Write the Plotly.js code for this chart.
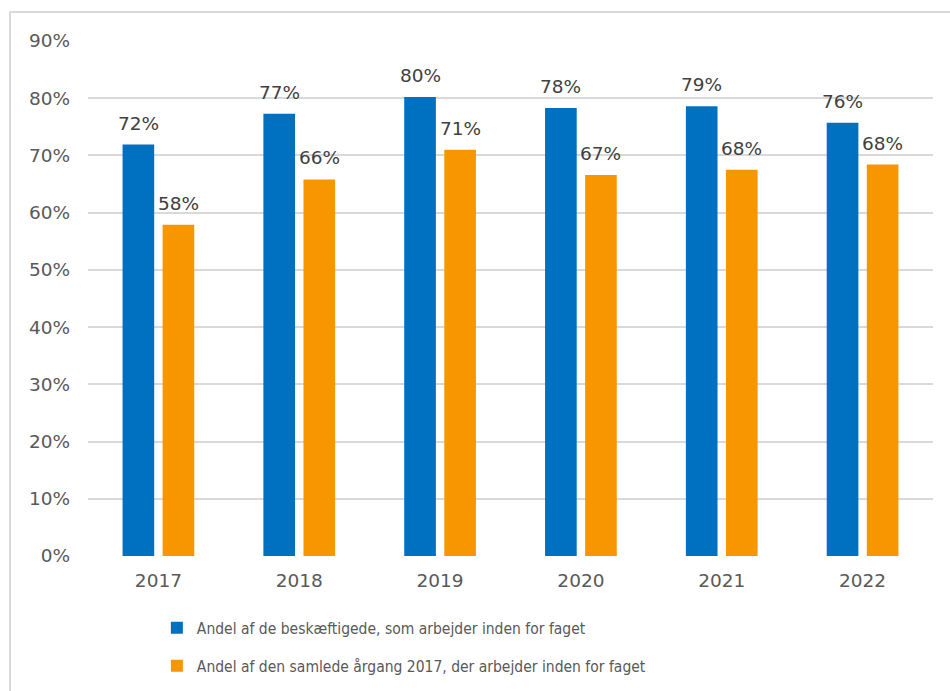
<!DOCTYPE html>
<html><head><meta charset="utf-8">
<script src="https://cdn.plot.ly/plotly-3.0.1.min.js"></script>
<style>
html,body{margin:0;padding:0;background:#fff;}
#wrap{position:relative;width:950px;height:691px;overflow:hidden;}
#frame{position:absolute;left:9px;top:11px;width:1000px;height:800px;border:2px solid #d9d9d9;box-sizing:border-box;}
#chart{position:absolute;left:0;top:0;width:950px;height:691px;}
</style></head>
<body><div id="wrap"><div id="frame"></div><div id="chart"></div></div>
<script>
const years = ['2017','2018','2019','2020','2021','2022'];
const employedShare = [71.9, 77.3, 80.2, 78.3, 78.6, 75.7];
const cohortShare = [57.9, 65.8, 71.0, 66.6, 67.5, 68.4];
const seriesNames = ['Andel af de beskæftigede, som arbejder inden for faget',
  'Andel af den samlede årgang 2017, der arbejder inden for faget'];
const colors = ['#0070C0', '#F79600'];
const txt = '#595959';
const font = 'DejaVu Sans, Verdana, sans-serif';

// pick a narrow font for the legend if available
function fontAvailable(name) {
  const c = document.createElement('canvas').getContext('2d');
  const s = 'Andel af de beskæftigede, som arbejder';
  c.font = '20px monospace'; const a = c.measureText(s).width;
  c.font = '20px "' + name + '", monospace'; const b = c.measureText(s).width;
  return Math.abs(a - b) > 0.5;
}
const narrow = fontAvailable('Liberation Sans Narrow');
const legendFont = narrow ? {family: 'Liberation Sans Narrow', size: 18}
                          : {family: 'DejaVu Sans Condensed', size: 15.5};

const traces = [employedShare, cohortShare].map((vals, i) => ({
  type: 'bar', x: years, y: vals, name: seriesNames[i], legendgroup: 'g' + i,
  marker: {color: colors[i]}, hoverinfo: 'none'
}));

const annotations = [];
[employedShare, cohortShare].forEach((vals, i) => {
  vals.forEach((v, j) => annotations.push({
    x: j, y: v, xref: 'x', yref: 'y', text: Math.round(v) + '%',
    showarrow: false, yanchor: 'bottom', xanchor: 'center',
    xshift: i === 0 ? -20 : 20, yshift: 9,
    font: {family: font, size: 18.5, color: '#404040'}
  }));
});

const layout = {
  width: 950, height: 691,
  margin: {l: 88, r: 17, t: 41, b: 135},
  paper_bgcolor: 'rgba(0,0,0,0)', plot_bgcolor: 'rgba(0,0,0,0)',
  barmode: 'group', bargap: 0.431, bargroupgap: 0.21,
  showlegend: true,
  legend: {orientation: 'v', x: 0.0815, xanchor: 'left', yref: 'container', y: 0.1157, yanchor: 'top',
    font: Object.assign({color: txt}, legendFont),
    itemwidth: 30, tracegroupgap: 15, traceorder: 'grouped'},
  xaxis: {type: 'category', showgrid: false, zeroline: false, showline: false,
    tickfont: {family: font, size: 18.5, color: txt}, ticks: '', ticklabelstandoff: 11},
  yaxis: {range: [0, 90], dtick: 10, ticksuffix: '%', showgrid: true, gridcolor: '#d9d9d9', gridwidth: 2,
    zeroline: false, showline: false, tickfont: {family: font, size: 18.5, color: txt}, ticks: '',
    ticklabelstandoff: 17},
  annotations: annotations
};
Plotly.newPlot('chart', traces, layout, {displayModeBar: false, staticPlot: true});
</script></body></html>
